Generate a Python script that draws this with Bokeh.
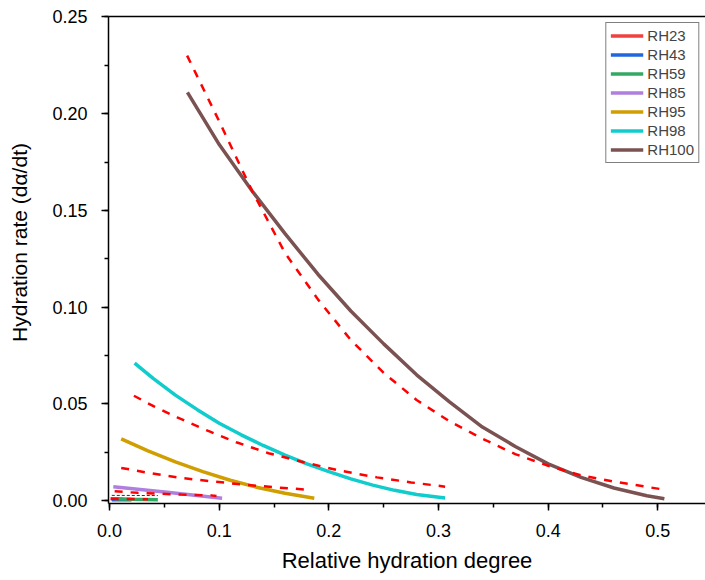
from bokeh.plotting import figure
from bokeh.models import (Range1d, SingleIntervalTicker, NumeralTickFormatter, FixedTicker,
                          LinearAxis, Legend, LegendItem)
from bokeh.embed import file_html
from bokeh.resources import INLINE

# ---- data ----
rh23_x = [0.001, 0.006, 0.012]
rh23_y = [0.0009, 0.0008, 0.0007]

rh43_x = [0.002, 0.010, 0.020]
rh43_y = [0.0005, 0.0005, 0.0004]

rh59_x = [0.005, 0.020, 0.044]
rh59_y = [0.0009, 0.0007, 0.0005]
rh59_fit_x = [0.001, 0.035]
rh59_fit_y = [0.0009, 0.0007]
box_x = [0.002, 0.044]
box_y = [0.0027, 0.0026]

rh85_x = [0.0034, 0.0525, 0.1026]
rh85_y = [0.0072, 0.0043, 0.0012]
rh85_fit_x = [0.0046, 0.0258, 0.065, 0.0926, 0.0975]
rh85_fit_y = [0.0048, 0.0040, 0.0031, 0.0027, 0.0024]

rh95_x = [0.0106, 0.035, 0.06, 0.085, 0.11, 0.135, 0.16, 0.1867]
rh95_y = [0.0319, 0.0257, 0.0200, 0.0150, 0.0105, 0.0068, 0.0038, 0.0012]
rh95_fit_x = [0.0106, 0.035, 0.0617, 0.09, 0.1223, 0.15, 0.1785]
rh95_fit_y = [0.0169, 0.0144, 0.0120, 0.0101, 0.0083, 0.0069, 0.0057]

rh98_x = [0.0228, 0.04, 0.06, 0.08, 0.10, 0.12, 0.14, 0.16, 0.18, 0.20, 0.22, 0.24, 0.26, 0.28, 0.306]
rh98_y = [0.071, 0.063, 0.0545, 0.047, 0.040, 0.034, 0.0285, 0.0235, 0.019, 0.015, 0.0112, 0.0080,
          0.0053, 0.0032, 0.0014]
rh98_fit_x = [0.0222, 0.04, 0.0617, 0.09, 0.1163, 0.145, 0.177, 0.21, 0.2438, 0.275, 0.306]
rh98_fit_y = [0.0542, 0.0488, 0.043, 0.036, 0.030, 0.0245, 0.0198, 0.0155, 0.012, 0.0094, 0.0072]

rh100_x = [0.071, 0.10, 0.13, 0.16, 0.19, 0.22, 0.25, 0.28, 0.31, 0.34, 0.37, 0.40, 0.43, 0.46,
           0.49, 0.506]
rh100_y = [0.211, 0.184, 0.160, 0.138, 0.117, 0.098, 0.081, 0.065, 0.051, 0.038, 0.028, 0.019,
           0.012, 0.0065, 0.0025, 0.001]
rh100_fit_x = [0.0707, 0.10, 0.13, 0.16, 0.19, 0.22, 0.25, 0.28, 0.31, 0.34, 0.37, 0.40, 0.43,
               0.46, 0.502]
rh100_fit_y = [0.230, 0.196, 0.160, 0.128, 0.104, 0.083, 0.066, 0.052, 0.041, 0.032, 0.024, 0.018,
               0.013, 0.0098, 0.006]

labels = ["RH23", "RH43", "RH59", "RH85", "RH95", "RH98", "RH100"]
colors = ["#F04040", "#2266DD", "#33A865", "#AE7FDD", "#D09E00", "#11CCCC", "#7B5252"]

FONT = "Liberation Sans"

p = figure(width=705, height=580, output_backend="svg", toolbar_location=None,
           x_range=Range1d(-0.001, 0.5435), y_range=Range1d(-0.0015, 0.2502),
           min_border_left=108, min_border_right=0, min_border_top=16, min_border_bottom=77)
p.outline_line_color = None
p.grid.visible = False
p.background_fill_color = "white"

series = [(rh23_x, rh23_y), (rh43_x, rh43_y), (rh59_x, rh59_y), (rh85_x, rh85_y),
          (rh95_x, rh95_y), (rh98_x, rh98_y), (rh100_x, rh100_y)]
items = []
for (xs, ys), lab, col in zip(series, labels, colors):
    r = p.line(xs, ys, line_color=col, line_width=3.5)
    items.append(LegendItem(label=lab, renderers=[r]))

p.line(box_x, box_y, line_color="#333333", line_width=1, line_dash="3 2")
for fx, fy in [(rh59_fit_x, rh59_fit_y), (rh85_fit_x, rh85_fit_y), (rh95_fit_x, rh95_fit_y),
               (rh98_fit_x, rh98_fit_y), (rh100_fit_x, rh100_fit_y)]:
    p.line(fx, fy, line_color="#FF0000", line_width=2.5, line_dash="8 8")

# axes
xa = p.xaxis[0]
xa.ticker = SingleIntervalTicker(interval=0.1, num_minor_ticks=2)
xa.formatter = NumeralTickFormatter(format="0.0")
ya = p.yaxis[0]
ya.ticker = SingleIntervalTicker(interval=0.05, num_minor_ticks=2)
ya.formatter = NumeralTickFormatter(format="0.00")
p.xaxis.axis_label = "Relative hydration degree"
p.yaxis.axis_label = "\u00a0" * 6 + "Hydration rate (dα/dt)"
for ax in (xa, ya):
    ax.axis_line_width = 1.5
    ax.axis_line_color = "black"
    ax.major_tick_line_width = 1.5
    ax.minor_tick_line_width = 1.5
    ax.major_tick_in = 0
    ax.major_tick_out = 7
    ax.minor_tick_in = 0
    ax.minor_tick_out = 4
    ax.major_label_text_font = FONT
    ax.major_label_text_font_size = "18px"
    ax.major_label_text_color = "black"
    ax.axis_label_text_font = FONT
    ax.axis_label_text_font_size = "21px"
    ax.axis_label_text_font_style = "normal"
    ax.axis_label_text_color = "black"
xa.axis_label_text_font_size = "22px"
xa.major_label_standoff = 13
xa.axis_label_standoff = 8
ya.major_label_standoff = 14
ya.axis_label_standoff = 18

top = LinearAxis(axis_line_width=1.5, major_tick_line_color=None, minor_tick_line_color=None,
                 ticker=FixedTicker(ticks=[]))
p.add_layout(top, "above")

legend = Legend(items=items, location="top_right", margin=6,
                label_text_font=FONT, label_text_font_size="15px",
                glyph_width=33, glyph_height=17, label_height=17, spacing=2,
                padding=4, label_standoff=4,
                border_line_color="black", border_line_width=1,
                background_fill_alpha=1)
p.add_layout(legend)

open("out.html", "w").write(file_html(p, INLINE))
